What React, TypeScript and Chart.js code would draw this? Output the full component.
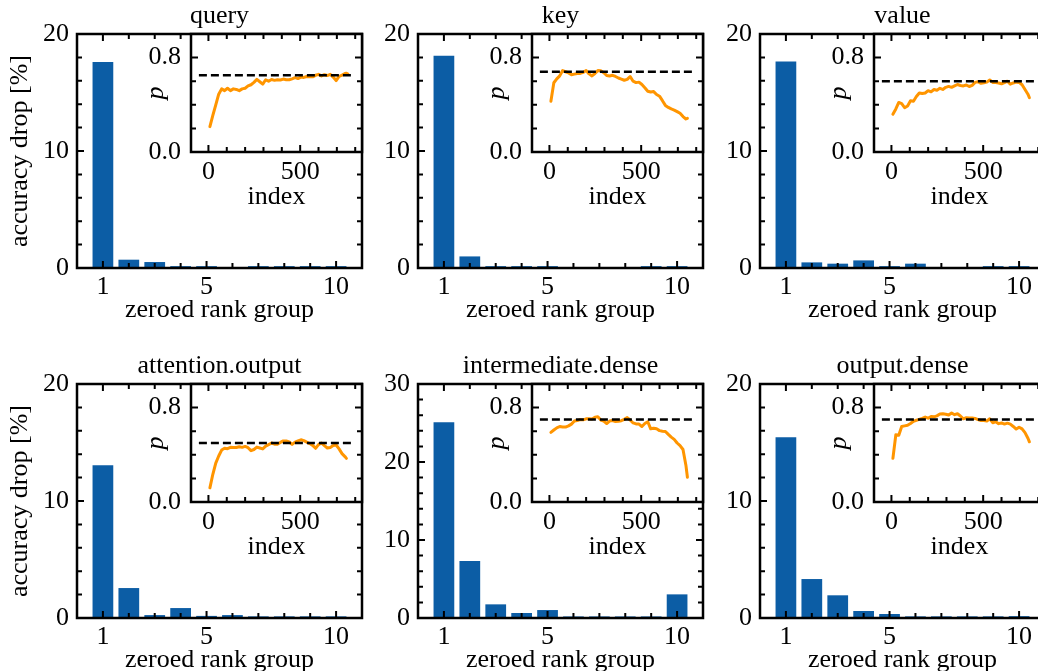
import React, { useEffect, useRef } from 'react';
import { Chart, registerables } from 'chart.js';
Chart.register(...registerables);

// ---------------- data ----------------
const rankGroups = [1, 2, 3, 4, 5, 6, 7, 8, 9, 10];
const rankTicks = [1, 5, 10];
const dropTicks20 = [0, 10, 20];
const dropTicks30 = [0, 10, 20, 30];
const pTicks = [0, 0.8];
const indexTicks = [0, 500];

const queryDrop = [17.6, 0.71, 0.51, 0.16, 0.16, 0, 0.16, 0.16, 0.16, 0.16];
const keyDrop = [18.15, 0.99, 0.16, 0.16, 0.16, 0, 0, 0, 0.16, 0.16];
const valueDrop = [17.66, 0.48, 0.37, 0.65, 0.16, 0.37, 0, 0, 0.16, 0.16];
const attnOutDrop = [13.05, 2.56, 0.25, 0.85, 0.18, 0.25, 0.14, 0.14, 0.14, 0.14];
const interDrop = [25.1, 7.3, 1.75, 0.64, 1.02, 0.2, 0.2, 0.2, 0.2, 3.03];
const outDenseDrop = [15.44, 3.33, 1.94, 0.6, 0.34, 0.14, 0.14, 0.14, 0.14, 0.16];

const pIndex = [8, 24, 40, 56, 72, 88, 104, 120, 136, 152, 168, 184, 200, 216, 232, 248, 264, 280, 296, 312, 328, 344, 360, 376, 392, 408, 424, 440, 456, 472, 488, 504, 520, 536, 552, 568, 584, 600, 616, 632, 648, 664, 680, 696, 712, 728, 744, 752, 760];

const queryP = [0.215, 0.31, 0.40, 0.49, 0.535, 0.52, 0.54, 0.52, 0.535, 0.53, 0.52, 0.535, 0.54, 0.56, 0.57, 0.59, 0.615, 0.595, 0.575, 0.612, 0.60, 0.614, 0.607, 0.612, 0.61, 0.618, 0.612, 0.612, 0.62, 0.63, 0.622, 0.635, 0.632, 0.64, 0.638, 0.637, 0.65, 0.658, 0.645, 0.655, 0.648, 0.658, 0.635, 0.605, 0.64, 0.652, 0.665, 0.668, 0.66];
const keyP = [0.43, 0.587, 0.62, 0.645, 0.69, 0.68, 0.67, 0.655, 0.66, 0.665, 0.666, 0.675, 0.69, 0.662, 0.645, 0.665, 0.69, 0.688, 0.672, 0.648, 0.644, 0.65, 0.64, 0.627, 0.618, 0.608, 0.615, 0.64, 0.60, 0.588, 0.592, 0.572, 0.545, 0.515, 0.508, 0.512, 0.487, 0.473, 0.435, 0.395, 0.378, 0.365, 0.355, 0.342, 0.328, 0.30, 0.28, 0.285, null];
const valueP = [0.32, 0.365, 0.42, 0.41, 0.375, 0.39, 0.435, 0.43, 0.47, 0.50, 0.495, 0.50, 0.52, 0.51, 0.53, 0.524, 0.54, 0.53, 0.548, 0.556, 0.548, 0.56, 0.572, 0.564, 0.56, 0.568, 0.555, 0.565, 0.59, 0.595, 0.582, 0.587, 0.592, 0.61, 0.59, 0.588, 0.585, 0.578, 0.588, 0.60, 0.575, 0.585, 0.592, 0.59, 0.57, 0.53, 0.49, 0.46, null];
const attnOutP = [0.12, 0.235, 0.33, 0.39, 0.44, 0.455, 0.452, 0.463, 0.462, 0.462, 0.468, 0.463, 0.471, 0.46, 0.435, 0.445, 0.465, 0.458, 0.45, 0.473, 0.486, 0.50, 0.49, 0.49, 0.505, 0.518, 0.518, 0.51, 0.488, 0.508, 0.518, 0.527, 0.52, 0.507, 0.495, 0.48, 0.455, 0.486, 0.50, 0.478, 0.458, 0.462, 0.478, 0.483, 0.45, 0.41, 0.385, 0.37, null];
const interP = [0.59, 0.61, 0.628, 0.64, 0.635, 0.635, 0.645, 0.66, 0.686, 0.69, 0.698, 0.696, 0.705, 0.705, 0.703, 0.718, 0.722, 0.695, 0.685, 0.665, 0.686, 0.69, 0.682, 0.684, 0.689, 0.70, 0.715, 0.695, 0.67, 0.662, 0.66, 0.64, 0.665, 0.68, 0.62, 0.625, 0.62, 0.605, 0.60, 0.598, 0.573, 0.55, 0.531, 0.50, 0.478, 0.445, 0.31, 0.21, null];
const outDenseP = [0.37, 0.57, 0.566, 0.64, 0.645, 0.65, 0.665, 0.684, 0.693, 0.70, 0.709, 0.72, 0.71, 0.725, 0.722, 0.73, 0.745, 0.747, 0.743, 0.737, 0.755, 0.74, 0.748, 0.729, 0.705, 0.715, 0.712, 0.711, 0.708, 0.698, 0.691, 0.691, 0.687, 0.705, 0.672, 0.68, 0.664, 0.67, 0.66, 0.668, 0.66, 0.64, 0.618, 0.634, 0.62, 0.588, 0.54, 0.51, null];

const thresholds = [0.65, 0.68, 0.60, 0.50, 0.70, 0.70];
const titles = ['query', 'key', 'value', 'attention.output', 'intermediate.dense', 'output.dense'];
const dashRange = [-52, 792];

// ---------------- style / layout ----------------
const FONT = "'Liberation Serif', 'Times New Roman', serif";
const FS = 26;
const BLUE = '#0C5DA5';
const ORANGE = '#FF9500';

const COL_LEFT = [77, 418, 760];
const ROW_TOP = [34, 384];
const PLOT_W = 285;
const PLOT_H = 234;
const MAIN_L = 77, MAIN_T = 34, MAIN_R = 12, MAIN_B = 72;
const INSET_DX = 114;
const INSET_W = PLOT_W - INSET_DX;
const INSET_H = 118;
const IN_L = 56, IN_T = 26, IN_R = 6, IN_B = 62;
const TICK_MAJ = 7, TICK_MIN = 5;

Chart.defaults.font.family = FONT;
Chart.defaults.color = '#000';

function range(a: number, b: number, step: number) {
  const out: number[] = [];
  for (let v = a; v <= b + 1e-9; v += step) out.push(Math.round(v * 1000) / 1000);
  return out;
}

function framePlugin(xMaj: number[], xMin: number[], yMaj: number[], yMin: number[], fill?: string) {
  return {
    id: 'frameTicks',
    beforeDraw(chart: any) {
      if (!fill) return;
      const { ctx, chartArea: a } = chart;
      ctx.save();
      ctx.fillStyle = fill;
      ctx.fillRect(a.left, a.top, a.right - a.left, a.bottom - a.top);
      ctx.restore();
    },
    afterDraw(chart: any) {
      const { ctx, chartArea: a, scales } = chart;
      const xs = scales.x, ys = scales.y;
      ctx.save();
      ctx.strokeStyle = '#000';
      ctx.lineWidth = 2;
      ctx.beginPath();
      const dx = (vals: number[], len: number) => vals.forEach((v) => {
        const px = xs.getPixelForValue(v);
        if (px < a.left + 1 || px > a.right - 1) return;
        ctx.moveTo(px, a.bottom); ctx.lineTo(px, a.bottom - len);
        ctx.moveTo(px, a.top); ctx.lineTo(px, a.top + len);
      });
      const dy = (vals: number[], len: number) => vals.forEach((v) => {
        const py = ys.getPixelForValue(v);
        if (py < a.top + 1 || py > a.bottom - 1) return;
        ctx.moveTo(a.left, py); ctx.lineTo(a.left + len, py);
        ctx.moveTo(a.right, py); ctx.lineTo(a.right - len, py);
      });
      dx(xMaj, TICK_MAJ); dx(xMin, TICK_MIN);
      dy(yMaj, TICK_MAJ); dy(yMin, TICK_MIN);
      ctx.stroke();
      ctx.lineWidth = 2.5;
      ctx.strokeRect(a.left, a.top, a.right - a.left, a.bottom - a.top);
      ctx.restore();
    },
  };
}

const font = { family: FONT, size: FS, lineHeight: 1 };

type PanelCfg = { title: string; drop: number[]; p: (number | null)[]; thr: number; yTicks: number[]; col: number; row: number };

const panels: PanelCfg[] = [
  { title: titles[0], drop: queryDrop, p: queryP, thr: thresholds[0], yTicks: dropTicks20, col: 0, row: 0 },
  { title: titles[1], drop: keyDrop, p: keyP, thr: thresholds[1], yTicks: dropTicks20, col: 1, row: 0 },
  { title: titles[2], drop: valueDrop, p: valueP, thr: thresholds[2], yTicks: dropTicks20, col: 2, row: 0 },
  { title: titles[3], drop: attnOutDrop, p: attnOutP, thr: thresholds[3], yTicks: dropTicks20, col: 0, row: 1 },
  { title: titles[4], drop: interDrop, p: interP, thr: thresholds[4], yTicks: dropTicks30, col: 1, row: 1 },
  { title: titles[5], drop: outDenseDrop, p: outDenseP, thr: thresholds[5], yTicks: dropTicks20, col: 2, row: 1 },
];

function mainConfig(c: PanelCfg): any {
  const yMax = c.yTicks[c.yTicks.length - 1];
  const xMinor = range(0, 11, 1).filter((v) => !rankTicks.includes(v));
  const yMinor = range(0, yMax, 2).filter((v) => !c.yTicks.includes(v));
  return {
    type: 'bar',
    data: {
      datasets: [{
        data: rankGroups.map((g, i) => ({ x: g, y: c.drop[i] })),
        backgroundColor: BLUE,
        borderWidth: 0,
        barPercentage: 1,
        categoryPercentage: 0.8,
      }],
    },
    plugins: [framePlugin(rankTicks, xMinor, c.yTicks, yMinor)],
    options: {
      animation: false,
      responsive: false,
      events: [],
      layout: { padding: { top: 0, left: 0, right: MAIN_R, bottom: 0 } },
      plugins: {
        legend: { display: false },
        tooltip: { enabled: false },
        title: {
          display: true, text: c.title, fullSize: false, color: '#000',
          font: { ...font, weight: 'normal' }, padding: { top: 3, bottom: MAIN_T - FS - 3 },
        },
      },
      scales: {
        x: {
          type: 'linear', min: 0, max: 11, offset: false,
          grid: { display: false, drawTicks: false, offset: false },
          border: { display: false },
          afterBuildTicks: (s: any) => { s.ticks = rankTicks.map((v) => ({ value: v })); },
          afterFit: (s: any) => { s.height = MAIN_B; },
          ticks: { autoSkip: false, maxRotation: 0, padding: 6.5, color: '#000', font, callback: (v: any) => String(v) },
          title: { display: true, text: 'zeroed rank group', color: '#000', font, padding: { top: 0, bottom: 17 } },
        },
        y: {
          type: 'linear', min: 0, max: yMax,
          grid: { display: false, drawTicks: false },
          border: { display: false },
          afterBuildTicks: (s: any) => { s.ticks = c.yTicks.map((v) => ({ value: v })); },
          afterFit: (s: any) => { s.width = MAIN_L; },
          ticks: { padding: 8, color: '#000', font, callback: (v: any) => String(v) },
          title: { display: c.col === 0, text: 'accuracy drop [%]', color: '#000', font, padding: { top: 7.5, bottom: 0 } },
        },
      },
    },
  };
}

function insetConfig(c: PanelCfg): any {
  const xMinor = range(100, 800, 100).filter((v) => !indexTicks.includes(v));
  const yMinor = [0.2, 0.4, 0.6];
  return {
    type: 'line',
    data: {
      datasets: [
        {
          data: dashRange.map((x) => ({ x, y: c.thr })),
          borderColor: '#000', borderWidth: 2.5, borderDash: [8, 4], pointRadius: 0,
        },
        {
          data: pIndex.map((x, i) => ({ x, y: c.p[i] })),
          borderColor: ORANGE, borderWidth: 3, pointRadius: 0, spanGaps: false, tension: 0,
          borderJoinStyle: 'round', borderCapStyle: 'round',
        },
      ],
    },
    plugins: [framePlugin(indexTicks, xMinor, pTicks, yMinor, '#ffffff')],
    options: {
      animation: false,
      responsive: false,
      events: [],
      layout: { padding: { top: IN_T, left: 0, right: IN_R, bottom: 0 } },
      plugins: { legend: { display: false }, tooltip: { enabled: false }, title: { display: false } },
      scales: {
        x: {
          type: 'linear', min: -95, max: 837,
          grid: { display: false, drawTicks: false },
          border: { display: false },
          afterBuildTicks: (s: any) => { s.ticks = indexTicks.map((v) => ({ value: v })); },
          afterFit: (s: any) => { s.height = IN_B; },
          ticks: { autoSkip: false, maxRotation: 0, padding: 7, color: '#000', font, callback: (v: any) => String(v) },
          title: { display: true, text: 'index', color: '#000', font, padding: { top: 0, bottom: 3.5 } },
        },
        y: {
          type: 'linear', min: 0, max: 1,
          grid: { display: false, drawTicks: false },
          border: { display: false },
          afterBuildTicks: (s: any) => { s.ticks = pTicks.map((v) => ({ value: v })); },
          afterFit: (s: any) => { s.width = IN_L; },
          ticks: { padding: 10, color: '#000', font, callback: (v: any) => Number(v).toFixed(1) },
          title: { display: true, text: 'p', color: '#000', font: { ...font, style: 'italic' }, padding: { top: 8, bottom: 0 } },
        },
      },
    },
  };
}

function Panel({ c }: { c: PanelCfg }) {
  const mainRef = useRef<HTMLCanvasElement | null>(null);
  const insetRef = useRef<HTMLCanvasElement | null>(null);
  useEffect(() => {
    const m = new Chart(mainRef.current as HTMLCanvasElement, mainConfig(c));
    const i = new Chart(insetRef.current as HTMLCanvasElement, insetConfig(c));
    return () => { m.destroy(); i.destroy(); };
  }, []);
  const plotLeft = COL_LEFT[c.col];
  const plotTop = ROW_TOP[c.row];
  const mw = MAIN_L + PLOT_W + MAIN_R;
  const mh = MAIN_T + PLOT_H + MAIN_B;
  const insetLeft = plotLeft + INSET_DX;
  const iw = IN_L + INSET_W + IN_R;
  const ih = IN_T + INSET_H + IN_B;
  return (
    <>
      <canvas ref={mainRef} width={mw} height={mh}
        style={{ position: 'absolute', left: plotLeft - MAIN_L, top: plotTop - MAIN_T, width: mw, height: mh, zIndex: 1 }} />
      <canvas ref={insetRef} width={iw} height={ih}
        style={{ position: 'absolute', left: insetLeft - IN_L, top: plotTop - IN_T, width: iw, height: ih, zIndex: 2 }} />
    </>
  );
}

export default function App() {
  useEffect(() => {
    document.body.style.margin = '0';
    document.body.style.overflow = 'hidden';
  }, []);
  return (
    <div style={{ position: 'relative', width: 1038, height: 671, overflow: 'hidden', background: '#fff' }}>
      {panels.map((c, i) => <Panel key={i} c={c} />)}
    </div>
  );
}
